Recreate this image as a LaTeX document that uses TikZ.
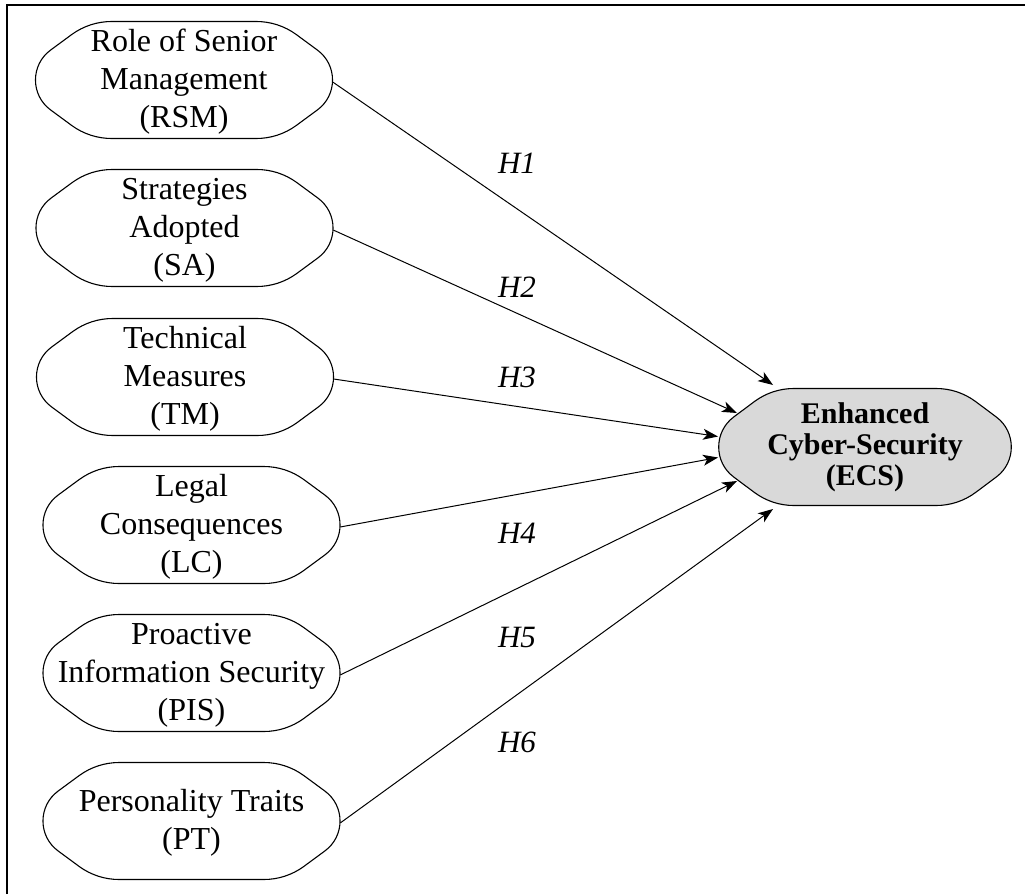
\documentclass[tikz,border=0pt]{standalone}
\usepackage{fontspec}
\setmainfont{Liberation Serif}
\usetikzlibrary{arrows.meta,backgrounds}
\definecolor{ecsgray}{RGB}{217,217,217}
\begin{document}
\begin{tikzpicture}[x=1pt,y=-1pt,
  octo/.pic={
    \draw[line width=1.1pt,line join=round,pic actions]
      (-72.3,58.5) -- (72.3,58.5) .. controls (86.6,58.5) and (100.5,54.0) .. (112.1,45.6)
      -- (133.3,30) .. controls (153.6,15.2) and (153.6,-15.2) .. (133.3,-30)
      -- (112.1,-45.6) .. controls (100.5,-54.0) and (86.6,-58.5) .. (72.3,-58.5)
      -- (-72.3,-58.5) .. controls (-86.6,-58.5) and (-100.5,-54.0) .. (-112.1,-45.6)
      -- (-133.3,-30) .. controls (-153.6,-15.2) and (-153.6,15.2) .. (-133.3,30)
      -- (-112.1,45.6) .. controls (-100.5,54.0) and (-86.6,58.5) .. cycle;
  },
  box/.style={minimum width=297pt, minimum height=117pt, inner sep=0pt, align=center,
    font=\fontsize{32}{38}\selectfont},
  target/.style={minimum width=293pt, minimum height=117pt, inner sep=0pt, align=center,
    font=\bfseries\fontsize{30}{31}\selectfont},
  lab/.style={inner sep=0pt, font=\itshape\fontsize{31}{31}\selectfont},
  arr/.style={line width=1pt, -{Stealth[length=15pt,width=11pt,inset=4pt]}},
  frame/.style={line width=1.5pt}
]
\useasboundingbox (0,0) rectangle (1025,894);
\draw[frame] (7,894) -- (7,5) -- (1025,5);

\node[box] (rsm) at (184,82) {Role of Senior\\Management\\(RSM)};
\node[box] (sa) at (184.5,230) {Strategies\\Adopted\\(SA)};
\node[box] (tm) at (185,379) {Technical\\Measures\\(TM)};
\node[box] (lc) at (191.5,527) {Legal\\Consequences\\(LC)};
\node[box] (pis) at (191.5,675) {Proactive\\Information Security\\(PIS)};
\node[box] (pt) at (191.5,823) {Personality Traits\\(PT)};
\node[target] (ecs) at (865,447) {Enhanced\\Cyber-Security\\(ECS)};

\begin{scope}[on background layer]
  \foreach \n in {rsm,sa,tm,lc,pis,pt}{
    \pic at ([yshift=2pt]\n.center) {octo};
  }
  \pic[fill=ecsgray,xscale=0.985] at (ecs.center) {octo};
\end{scope}

\draw[arr] (rsm.east) -- ([shift={(-92,-62)}]ecs.center);
\draw[arr] (sa.east) -- ([shift={(-128,-34)}]ecs.center);
\draw[arr] (tm.east) -- ([shift={(-147,-10.5)}]ecs.center);
\draw[arr] (lc.east) -- ([shift={(-147,10.5)}]ecs.center);
\draw[arr] (pis.east) -- ([shift={(-128,34)}]ecs.center);
\draw[arr] (pt.east) -- ([shift={(-92,62)}]ecs.center);

\node[lab] (h1) at (517,163) {H1};
\node[lab] (h2) at (517,287) {H2};
\node[lab] (h3) at (517,377) {H3};
\node[lab] (h4) at (517,533) {H4};
\node[lab] (h5) at (517,637) {H5};
\node[lab] (h6) at (517,742) {H6};
\end{tikzpicture}
\end{document}
